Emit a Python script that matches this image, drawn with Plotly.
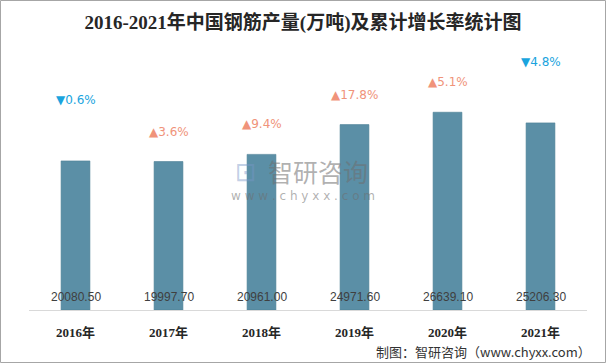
import plotly.graph_objects as go

years = ["2016年", "2017年", "2018年", "2019年", "2020年", "2021年"]
production = [20080.50, 19997.70, 20961.00, 24971.60, 26639.10, 25206.30]
growth = [-0.6, 3.6, 9.4, 17.8, 5.1, -4.8]

W, H = 606, 363
ml, mr, mt, mb = 29, 19, 40, 53
pw, ph = W - ml - mr, H - mt - mb

fig = go.Figure()
fig.add_trace(go.Bar(
    x=years, y=production, width=0.31,
    marker=dict(color="#5B8FA6", line=dict(color="#4E7F96", width=0.6)),
    hoverinfo="x+y",
))

ann = []
for yr, v, g in zip(years, production, growth):
    ann.append(dict(x=yr, y=0, xref="x", yref="y", text=f"{v:.2f}", showarrow=False,
                    yshift=13, font=dict(size=12, color="#404040", family="Liberation Sans, Noto Sans CJK SC")))
    up = g >= 0
    ann.append(dict(x=yr, y=v, xref="x", yref="y",
                    text=("▲" if up else "▼") + f"{abs(g):.1f}%", showarrow=False,
                    yshift=30 if up else 61,
                    font=dict(size=12, color="#F0937A" if up else "#1AA4DE",
                              family="DejaVu Sans, Noto Sans CJK SC")))

# watermark
ann.append(dict(x=(318 - ml) / pw, y=1 - (171 - mt) / ph, xref="paper", yref="paper",
                text="智研咨询", showarrow=False,
                font=dict(size=25, color="rgba(110,110,110,0.55)", family="Noto Sans CJK SC")))
ann.append(dict(x=(303 - ml) / pw, y=1 - (196 - mt) / ph, xref="paper", yref="paper",
                text="w w w . c h y x x . c o m", showarrow=False,
                font=dict(size=12, color="rgba(110,110,110,0.55)", family="DejaVu Sans")))
ann.append(dict(x=(246 - ml) / pw, y=1 - (172 - mt) / ph, xref="paper", yref="paper",
                text="⊡", showarrow=False,
                font=dict(size=26, color="rgba(120,150,200,0.45)", family="DejaVu Sans")))

# footer
ann.append(dict(x=(593 - ml) / pw, y=-(352 - mt - ph) / ph, xref="paper", yref="paper",
                xanchor="right", yanchor="middle",
                text="制图：智研咨询（www.chyxx.com）", showarrow=False,
                font=dict(size=13, color="#333333", family="Noto Sans CJK SC")))

shapes = [dict(type="rect", xref="paper", yref="paper",
               x0=(-ml + 0.5) / pw, x1=1 + (mr - 0.5) / pw,
               y0=-(mb - 0.5) / ph, y1=1 + (mt - 0.5) / ph,
               line=dict(color="#A6A6A6", width=1), fillcolor="rgba(0,0,0,0)", layer="below")]

fig.update_layout(
    width=W, height=H,
    margin=dict(l=ml, r=mr, t=mt, b=mb),
    paper_bgcolor="white", plot_bgcolor="white",
    showlegend=False,
    title=dict(text="<b>2016-2021年中国钢筋产量(万吨)及累计增长率统计图</b>",
               x=0.5, xanchor="center", y=1 - 22 / H, yanchor="middle",
               font=dict(size=19, color="#262626", family="Liberation Serif, Noto Sans CJK SC")),
    xaxis=dict(showline=True, linecolor="#D9D9D9", linewidth=1, showgrid=False,
               ticks="", ticklabelstandoff=10,
               tickfont=dict(size=13, color="#262626", family="Liberation Serif, Noto Sans CJK SC"),
               tickprefix="<b>", ticksuffix="</b>"),
    yaxis=dict(visible=False, range=[0, 36370], showgrid=False, zeroline=False),
    annotations=ann, shapes=shapes,
    bargap=0.69,
)

fig.write_html("out.html", config={"displayModeBar": False},
               post_script="document.body.style.margin='0';document.body.style.overflow='hidden';")
